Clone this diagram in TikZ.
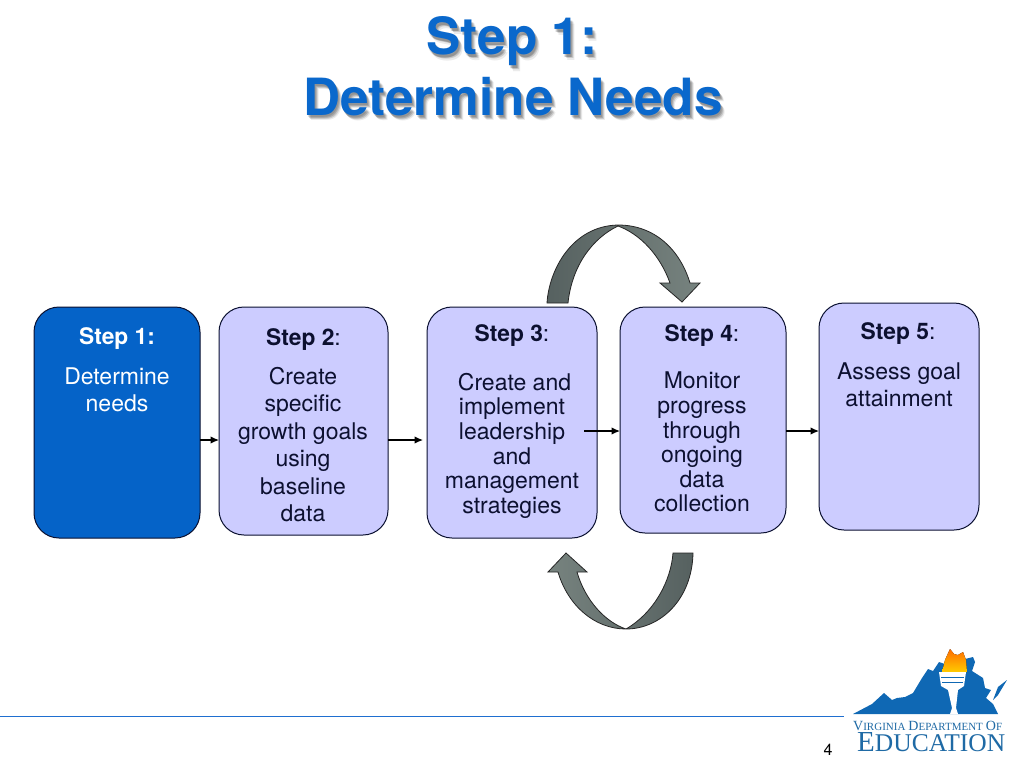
\documentclass[tikz,border=0pt]{standalone}
\usepackage{fontspec}
\setmainfont{TeX Gyre Heros}
\newfontfamily\logofont{Liberation Serif}
\usetikzlibrary{arrows.meta}
\definecolor{titleblue}{HTML}{0A68CC}
\definecolor{boxlav}{HTML}{CCCCFF}
\definecolor{boxblue}{HTML}{0563C8}
\definecolor{boxline}{HTML}{0A1030}
\definecolor{inktext}{HTML}{0C1030}
\definecolor{linkblue}{HTML}{1F6FD0}
\definecolor{logoblue}{HTML}{0F68B4}
\definecolor{logotext}{HTML}{1F6AA5}
\definecolor{loopdark}{HTML}{566160}
\definecolor{looplight}{HTML}{77837F}
\tikzset{
  stepbox/.style={draw=boxline,line width=1pt,fill=boxlav,rounded corners=25pt,inner sep=0pt,outer sep=0pt,minimum width=#1},
  headtext/.style={font=\fontsize{22.8}{26}\selectfont,text=inktext,inner sep=0pt,anchor=base},
  bodytext/.style={font=\fontsize{23}{#1}\selectfont,text=inktext,inner sep=0pt,anchor=north,align=center},
  flow/.style={-{Latex[length=8.5pt,width=7.5pt]},line width=1.2pt,black},
  loopshape/.style={draw=black!85,line width=.8pt},
  titlefont/.style={font=\fontsize{51.3}{60}\selectfont\bfseries,inner sep=0pt,anchor=base}
}
\begin{document}
\begin{tikzpicture}[x=1pt,y=-1pt]
\useasboundingbox (0,0) rectangle (1024,768);
\fill[white] (0,0) rectangle (1024,768);
% title with soft shadow
\foreach \dx/\dy/\op in {1/2/.12,2/3/.16,3/4/.14,4/5/.08}{
  \node[titlefont,text=black,opacity=\op] at (512+\dx,55+\dy) {Step 1:};
  \node[titlefont,text=black,opacity=\op] at (513+\dx,115+\dy) {Determine Needs};
}
\node[titlefont,text=titleblue] (t1) at (512,55) {Step 1:};
\node[titlefont,text=titleblue] (t2) at (513,115) {Determine Needs};
% boxes
\node[stepbox=166pt,minimum height=231pt,fill=boxblue] (b1) at (117,422.5) {};
\node[stepbox=169pt,minimum height=228pt] (b2) at (303.5,421) {};
\node[stepbox=170pt,minimum height=231pt] (b3) at (512,422.5) {};
\node[stepbox=166pt,minimum height=226pt] (b4) at (703,420) {};
\node[stepbox=160pt,minimum height=227pt] (b5) at (899,416.5) {};
% loop arrows
\path[loopshape,left color=loopdark,right color=looplight]
  (547,303) .. controls (549,270) and (572,226) .. (618,225)
  .. controls (655,225) and (680,250) .. (690,283) -- (700,283) -- (682,302) -- (660,283) -- (670,283)
  .. controls (660,255) and (640,234) .. (618,226)
  .. controls (593,238) and (572,265) .. (568,303) -- cycle;
\path[loopshape,left color=looplight,right color=loopdark]
  (673,553) .. controls (671,580) and (655,612) .. (626,629)
  .. controls (605,622) and (585,600) .. (577,572) -- (587,572) -- (566,553) -- (548,572) -- (558,572)
  .. controls (568,606) and (595,629) .. (626,629)
  .. controls (660,629) and (692,600) .. (693,553) -- cycle;
% text
\node[headtext,font=\fontsize{22.8}{26}\selectfont\bfseries,text=white] (h1) at (117,344) {Step 1:};
\node[bodytext=27.5,text=white] (x1) at (117,367.5) {Determine\\needs};
\node[headtext] (h2) at (303.5,345) {\textbf{Step 2}:};
\node[bodytext=27.5] (x2) at (303,367) {Create\\specific\\growth goals\\using\\baseline\\data};
\node[headtext] (h3) at (512,341) {\textbf{Step 3}:};
\node[bodytext=24.6] (x3) at (512,373) {\hspace*{5pt}Create and\\implement\\leadership\\and\\management\\strategies};
\node[headtext] (h4) at (702,341) {\textbf{Step 4}:};
\node[bodytext=24.6] (x4) at (702,372) {Monitor\\progress\\through\\ongoing\\data\\collection};
\node[headtext] (h5) at (898,339) {\textbf{Step 5}:};
\node[bodytext=27] (x5) at (899,363) {Assess goal\\attainment};
% connectors
\coordinate (ya) at (0,440);
\coordinate (yb) at (0,431);
\coordinate (s3) at (584,431);
\draw[flow] (b1.east |- ya) -- (b2.west |- ya);
\draw[flow] (b2.east |- ya) -- (423,440);
\draw[flow] (s3) -- (b4.west |- yb);
\draw[flow] (b4.east |- yb) -- (b5.west |- yb);
% footer
\coordinate (fl) at (0,716.5);
\coordinate (fr) at (844,716.5);
\draw[linkblue,line width=1.6pt] (fl) -- (fr);
\node[font=\fontsize{16}{18}\selectfont,text=black,inner sep=0pt] (pg) at (828,750) {4};
% logo
\fill[logoblue] (853,714) -- (872,704) -- (884,693) -- (892,700) -- (897,698) -- (905,697) -- (913,693)
  -- (922,678) -- (928,669) -- (933,671) -- (939,662) -- (945,664) -- (973,657) -- (975,662) -- (972,671)
  -- (983,678) -- (985,688) -- (991,690) -- (986,698) -- (993,704) -- (998,714) -- cycle;
\fill[logoblue] (993,700) -- (998,687) -- (1007,680) -- (998,695) -- cycle;
\fill[top color=orange!85!red,bottom color=yellow!60!orange]
  (942,672) -- (945,660) -- (950,649) -- (954,654) -- (958,655) -- (963,652) -- (966,660) -- (967,672) -- cycle;
\fill[white] (939,672) -- (966,672) -- (964,686) -- (958,690) -- (956,708) -- (958,714) -- (950,714) -- (952,708) -- (948,690) -- (941,686) -- cycle;
\draw[logoblue,line width=.5pt] (941,677) -- (964,677) (942,682) -- (963,682);
\node[font=\logofont,text=logotext,inner sep=0pt,anchor=base west] (lg1) at (853,730)
  {\fontsize{14}{14}\selectfont V\fontsize{11}{14}\selectfont IRGINIA\hspace{3pt}\fontsize{14}{14}\selectfont D\fontsize{11}{14}\selectfont EPARTMENT\hspace{3pt}\fontsize{14}{14}\selectfont O\fontsize{11}{14}\selectfont F};
\node[font=\logofont,text=logotext,inner sep=0pt,anchor=base west] (lg2) at (857,751.5)
  {\fontsize{29}{28}\selectfont E\fontsize{25.5}{28}\selectfont DUCATION};
\end{tikzpicture}
\end{document}
